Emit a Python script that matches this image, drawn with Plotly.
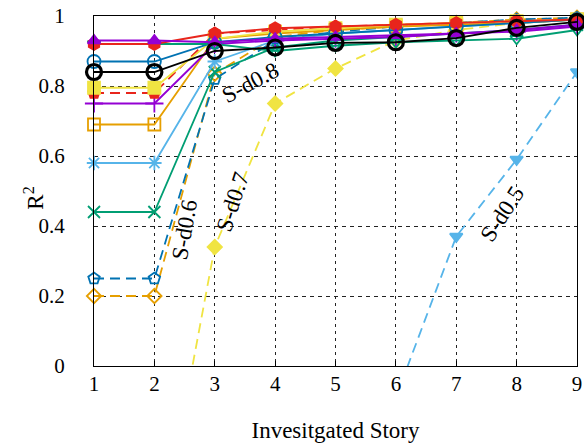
import plotly.graph_objects as go

stories = [1, 2, 3, 4, 5, 6, 7, 8, 9]
x_tick_labels = ["1", "2", "3", "4", "5", "6", "7", "8", "9"]
y_tick_vals = [0, 0.2, 0.4, 0.6, 0.8, 1.0]
y_tick_labels = ["0", "0.2", "0.4", "0.6", "0.8", "1"]

# series values (R^2 per investigated story)
s_purple_tri = [0.93, 0.93, 0.925, 0.935, 0.94, 0.945, 0.95, 0.96, 0.975]
s_red_hex = [0.92, 0.92, 0.95, 0.965, 0.97, 0.975, 0.98, 0.985, 0.99]
s_green_tri = [0.92, 0.92, 0.92, 0.90, 0.915, 0.925, 0.93, 0.935, 0.96]
s_blue_circ = [0.87, 0.87, 0.925, 0.94, 0.95, 0.96, 0.97, 0.98, 0.99]
s_black_circ = [0.84, 0.84, 0.90, 0.91, 0.923, 0.925, 0.937, 0.966, 0.983]
s_yellow_sq = [0.795, 0.795, 0.935, 0.955, 0.965, 0.975, 0.98, 0.985, 0.99]
s_red_pent = [0.78, 0.78, 0.95, 0.96, 0.97, 0.975, 0.98, 0.985, 0.99]
s_purple_plus = [0.75, 0.75, 0.92, 0.93, 0.935, 0.94, 0.95, 0.955, 0.97]
s_orange_sq = [0.69, 0.69, 0.935, 0.95, 0.96, 0.97, 0.975, 0.98, 0.99]
s_lblue_ast = [0.58, 0.58, 0.87, 0.93, 0.95, 0.96, 0.97, 0.98, 0.99]
s_green_x = [0.44, 0.44, 0.84, 0.91, 0.93, 0.94, 0.95, 0.96, 0.975]
s_d06_blue = [0.25, 0.25, 0.82, 0.93, 0.955, 0.97, 0.98, 0.99, 0.995]
s_d06_orange = [0.20, 0.20, 0.835, 0.94, 0.96, 0.97, 0.98, 0.99, 0.995]
s_d07_yellow = [None, -0.58, 0.34, 0.75, 0.85, 0.93, 0.96, 0.98, 0.99]
s_d05_lblue = [None, None, None, None, None, -0.09, 0.37, 0.59, 0.84]

PURPLE = "#9400D3"
RED = "#E8251C"
GREEN = "#009E73"
BLUE = "#0072B2"
LBLUE = "#56B4E9"
ORANGE = "#E69F00"
YELLOW = "#F0E442"
BLACK = "#000000"
DASH = "10px,6px"

fig = go.Figure()


def add(y, color, symbol, size=10, dash="solid", lw=1.8, mlw=1.8, clip=False):
    fig.add_trace(go.Scatter(
        x=stories, y=y, mode="lines+markers",
        line=dict(color=color, width=lw, dash=dash),
        marker=dict(symbol=symbol, size=size, color=color,
                    line=dict(color=color, width=mlw)),
        cliponaxis=clip, showlegend=False, connectgaps=False,
    ))


add(s_d05_lblue, LBLUE, "triangle-down", size=11, dash=DASH, clip=True)
add(s_d07_yellow, YELLOW, "diamond", size=11, dash=DASH, clip=True)
add(s_d06_orange, ORANGE, "diamond-open", size=11, dash=DASH)
add(s_d06_blue, BLUE, "pentagon-open", size=12, dash=DASH)
add(s_green_x, GREEN, "x-thin-open", size=12)
add(s_lblue_ast, LBLUE, "asterisk-open", size=12)
add(s_orange_sq, ORANGE, "square-open", size=12)
add(s_purple_plus, PURPLE, "cross-thin-open", size=13)
add(s_red_pent, RED, "pentagon", size=12, dash=DASH)
add(s_yellow_sq, YELLOW, "square", size=12)
add(s_blue_circ, BLUE, "circle-open", size=13)
add(s_green_tri, GREEN, "triangle-down-open", size=11)
add(s_red_hex, RED, "hexagon", size=12)
add(s_purple_tri, PURPLE, "triangle-up", size=11)
add(s_black_circ, BLACK, "circle-open", size=15, lw=1.8, mlw=3.2)

serif = "Liberation Serif, Times New Roman, serif"
ann_font = dict(family=serif, size=23, color="black")
annotations = [
    dict(x=3.6, y=0.81, text="S-d0.8", textangle=-28),
    dict(x=2.5, y=0.39, text="S-d0.6", textangle=-80),
    dict(x=3.3, y=0.47, text="S-d0.7", textangle=-72),
    dict(x=7.77, y=0.435, text="S-d0.5", textangle=-57),
]
for a in annotations:
    fig.add_annotation(xref="x", yref="y", showarrow=False, font=ann_font, **a)

# y-axis title
fig.add_annotation(xref="paper", yref="paper", x=-0.125, y=0.48,
                   xanchor="center", yanchor="middle", showarrow=False,
                   text="R<sup>2</sup>", textangle=-90,
                   font=dict(family=serif, size=23, color="black"))

fig.update_layout(
    width=584, height=446,
    margin=dict(l=94, r=7, t=16, b=80),
    paper_bgcolor="white", plot_bgcolor="white",
    font=dict(family=serif, color="black"),
)
fig.update_xaxes(
    range=[1, 9], tickvals=stories, ticktext=x_tick_labels,
    showline=True, mirror=True, linecolor="black", linewidth=1.2,
    showgrid=True, gridcolor="#222222", gridwidth=1, griddash="3px,4px",
    zeroline=False, ticks="inside", ticklen=5, tickcolor="black",
    tickfont=dict(size=21, family=serif), ticklabeloverflow="allow",
    ticklabelstandoff=-1, automargin=False,
    title=dict(text="Invesitgated Story", font=dict(size=23, family=serif), standoff=26),
)
fig.update_yaxes(
    range=[0, 1], tickvals=y_tick_vals, ticktext=y_tick_labels,
    showline=True, mirror=True, linecolor="black", linewidth=1.2,
    showgrid=True, gridcolor="#222222", gridwidth=1, griddash="4px,4px",
    zeroline=False, ticks="", ticklabelstandoff=24, automargin=False,
    tickfont=dict(size=21, family=serif),
)

fig.write_html(
    "out.html",
    config={"displayModeBar": False},
    post_script="document.body.style.margin='0';document.body.style.overflow='hidden';",
)
